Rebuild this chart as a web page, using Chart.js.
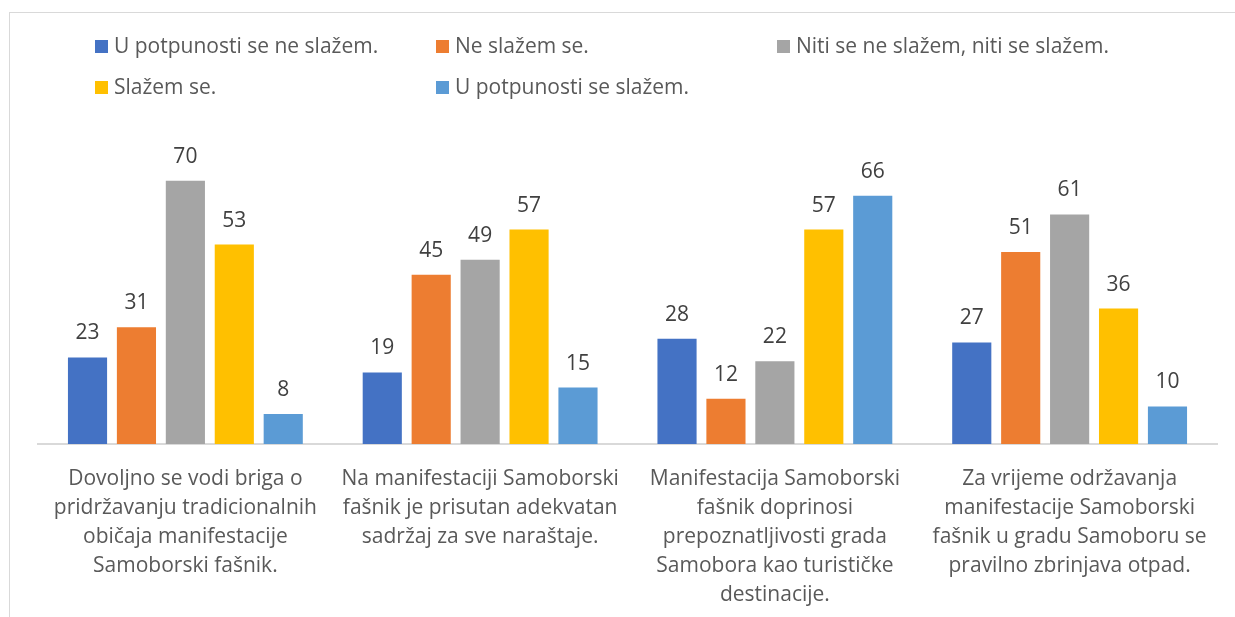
<!DOCTYPE html>
<html>
<head>
<meta charset="utf-8">
<script src="https://cdn.jsdelivr.net/npm/chart.js@4.4.1/dist/chart.umd.min.js"></script>
<style>
  html, body { margin: 0; padding: 0; background: #fff; overflow: hidden; }
  #wrap { position: relative; width: 1235px; height: 617px; }
  #frame { position: absolute; left: 9px; top: 12px; width: 1400px; height: 800px; border: 1px solid #d9d9d9; box-sizing: border-box; }
  #chart { position: absolute; left: 0; top: 0; }
  .leg { position: absolute; font-family: "Open Sans", sans-serif; font-size: 21px; color: #595959; white-space: nowrap; line-height: 22px; }
  .leg .box { display: inline-block; width: 13px; height: 13px; margin-right: 6px; vertical-align: 0px; }
</style>
</head>
<body>
<div id="wrap">
  <div id="frame"></div>
  <canvas id="chart" width="1235" height="617"></canvas>
  <div id="legend"></div>
</div>
<script>
// categories (x labels, already wrapped the way the original shows them)
const categories = [
  ['Dovoljno se vodi briga o', 'pridržavanju tradicionalnih', 'običaja manifestacije', 'Samoborski fašnik.'],
  ['Na manifestaciji Samoborski', 'fašnik je prisutan adekvatan', 'sadržaj za sve naraštaje.'],
  ['Manifestacija Samoborski', 'fašnik doprinosi', 'prepoznatljivosti grada', 'Samobora kao turističke', 'destinacije.'],
  ['Za vrijeme održavanja', 'manifestacije Samoborski', 'fašnik u gradu Samoboru se', 'pravilno zbrinjava otpad.'],
];

const seriesNames = [
  'U potpunosti se ne slažem.',
  'Ne slažem se.',
  'Niti se ne slažem, niti se slažem.',
  'Slažem se.',
  'U potpunosti se slažem.',
];
const seriesColors = ['#4472C4', '#ED7D31', '#A5A5A5', '#FFC000', '#5B9BD5'];

const stronglyDisagree = [23, 19, 28, 27];
const disagree = [31, 45, 12, 51];
const neutral = [70, 49, 22, 61];
const agree = [53, 57, 57, 36];
const stronglyAgree = [8, 15, 66, 10];

const seriesValues = [stronglyDisagree, disagree, neutral, agree, stronglyAgree];

const FONT = '"Open Sans", sans-serif';

// legend in the original's column layout: [left, top] per item
const legendPos = [[95, 34], [436, 34], [777, 34], [95, 75], [436, 75]];
const legend = document.getElementById('legend');
seriesNames.forEach((name, i) => {
  const d = document.createElement('div');
  d.className = 'leg';
  d.style.left = legendPos[i][0] + 'px';
  d.style.top = legendPos[i][1] + 'px';
  d.innerHTML = `<span class="box" style="background:${seriesColors[i]}"></span>${name}`;
  legend.appendChild(d);
});

// value labels above the bars
const valueLabels = {
  id: 'valueLabels',
  afterDatasetsDraw(chart) {
    const ctx = chart.ctx;
    ctx.save();
    ctx.font = '21px ' + FONT;
    ctx.fillStyle = '#404040';
    ctx.textAlign = 'center';
    ctx.textBaseline = 'middle';
    chart.data.datasets.forEach((ds, i) => {
      chart.getDatasetMeta(i).data.forEach((bar, j) => {
        ctx.fillText(ds.data[j], bar.x, bar.y - 24);
      });
    });
    ctx.restore();
  }
};

new Chart(document.getElementById('chart'), {
  type: 'bar',
  data: {
    labels: categories,
    datasets: seriesValues.map((vals, i) => ({
      label: seriesNames[i],
      data: vals,
      backgroundColor: seriesColors[i],
      borderWidth: 0,
    })),
  },
  options: {
    responsive: false,
    animation: false,
    layout: { padding: { left: 38, right: 18, top: 143, bottom: 0 } },
    categoryPercentage: 0.83,
    barPercentage: 0.8,
    plugins: {
      legend: { display: false },
      tooltip: { enabled: false },
    },
    scales: {
      y: { display: false, min: 0, max: 80 },
      x: {
        afterFit: s => { s.height = 173; },
        grid: { display: false, drawTicks: false },
        border: { color: '#d9d9d9', width: 2 },
        ticks: {
          padding: 21,
          maxRotation: 0,
          autoSkip: false,
          color: '#595959',
          font: { family: FONT, size: 21, lineHeight: 1.38 },
        },
      },
    },
  },
  plugins: [valueLabels],
});
</script>
</body>
</html>
